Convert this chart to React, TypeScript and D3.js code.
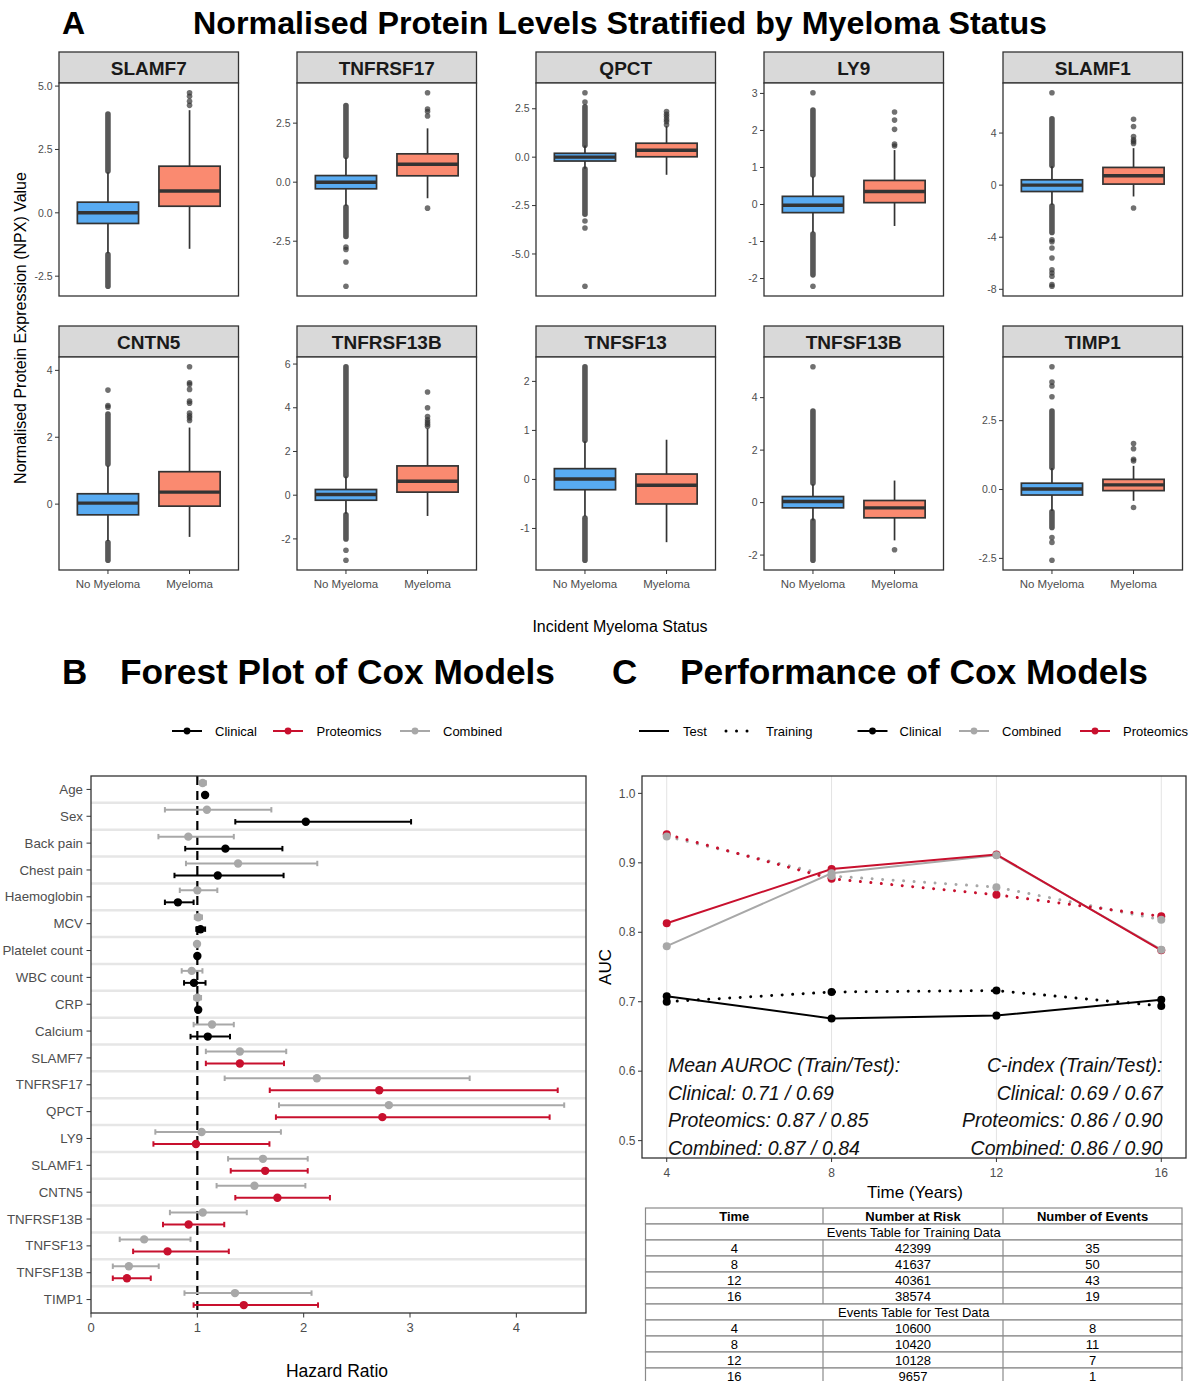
import React from 'react';
import * as d3 from 'd3';

const W = 1192;
const H = 1381;
const FONT = "'Liberation Sans', Arial, Helvetica, sans-serif";
const BLUE = '#58ABF2';
const SALMON = '#FA8A70';
const RED = '#C8102E';
const GREY = '#A8A8A8';
const AXIS_TEXT = '#4D4D4D';
const DARK = '#333333';

// ---------------- Panel A data ----------------
const proteins = ['SLAMF7', 'TNFRSF17', 'QPCT', 'LY9', 'SLAMF1', 'CNTN5', 'TNFRSF13B', 'TNFSF13', 'TNFSF13B', 'TIMP1'];
const groups = ['No Myeloma', 'Myeloma'];
// [lower whisker, Q1, median, Q3, upper whisker]
const boxNoMyeloma: number[][] = [
  [-1.6, -0.42, 0.0, 0.42, 1.6],
  [-1.0, -0.28, 0.0, 0.28, 1.05],
  [-0.6, -0.2, 0.0, 0.2, 0.6],
  [-0.75, -0.22, -0.02, 0.22, 0.75],
  [-1.5, -0.49, 0.0, 0.41, 1.45],
  [-1.1, -0.32, 0.03, 0.31, 1.15],
  [-0.85, -0.23, 0.03, 0.26, 0.85],
  [-0.75, -0.21, 0.01, 0.22, 0.78],
  [-0.68, -0.2, 0.04, 0.23, 0.7],
  [-0.78, -0.2, 0.02, 0.23, 0.78],
];
const boxMyeloma: number[][] = [
  [-1.42, 0.26, 0.86, 1.84, 4.05],
  [-0.68, 0.27, 0.76, 1.2, 2.28],
  [-0.91, 0.02, 0.36, 0.72, 1.6],
  [-0.58, 0.05, 0.35, 0.65, 1.47],
  [-0.87, 0.08, 0.72, 1.36, 2.84],
  [-0.98, -0.06, 0.36, 0.97, 2.29],
  [-0.95, 0.14, 0.64, 1.34, 3.05],
  [-1.28, -0.5, -0.12, 0.11, 0.81],
  [-1.44, -0.58, -0.2, 0.08, 0.84],
  [-0.41, -0.04, 0.17, 0.37, 0.86],
];
// ranges where the outlier dots overlap into a continuous column
const denseOutliersNoMyeloma: number[][][] = [
  [[1.65, 3.9], [-2.9, -1.65]],
  [[1.1, 3.25], [-2.3, -1.05]],
  [[0.62, 2.6], [-2.95, -0.62]],
  [[0.8, 2.55], [-1.9, -0.8]],
  [[1.5, 5.1], [-3.63, -1.6]],
  [[1.2, 2.69], [-1.68, -1.15]],
  [[0.9, 5.88], [-2.0, -0.9]],
  [[0.8, 2.3], [-1.65, -0.79]],
  [[0.75, 3.49], [-2.2, -0.7]],
  [[0.8, 2.85], [-1.38, -0.81]],
];
const outliersNoMyeloma: number[][] = [
  [],
  [-2.75, -2.85, -3.38, -4.41],
  [2.85, 3.33, -3.3, -3.66, -6.67],
  [3.02, -2.21],
  [7.1, -4.2, -4.35, -4.83, -5.6, -6.5, -6.75, -7.0, -7.64, -7.77],
  [2.9, 2.95, 3.41],
  [-2.52, -2.98],
  [],
  [5.18],
  [3.37, 3.76, 3.9, 4.46, -1.74, -1.92, -2.57],
];
const outliersMyeloma: number[][] = [
  [4.24, 4.4, 4.6, 4.74],
  [2.8, 2.99, 3.1, 3.79, -1.1],
  [1.67, 1.84, 1.95, 2.1, 2.22, 2.36],
  [1.58, 1.63, 2.03, 2.28, 2.5],
  [3.2, 3.35, 3.48, 3.73, 4.5, 5.06, -1.76],
  [2.5, 2.58, 2.64, 2.72, 3.02, 3.08, 3.43, 3.58, 3.63, 4.11],
  [3.15, 3.25, 3.35, 3.45, 3.6, 4.0, 4.72],
  [],
  [-1.8],
  [1.04, 1.1, 1.48, 1.67, -0.65],
];
const yTicksA: number[][] = [
  [-2.5, 0, 2.5, 5],
  [-2.5, 0, 2.5],
  [-5, -2.5, 0, 2.5],
  [-2, -1, 0, 1, 2, 3],
  [-8, -4, 0, 4],
  [0, 2, 4],
  [-2, 0, 2, 4, 6],
  [-1, 0, 1, 2],
  [-2, 0, 2, 4],
  [-2.5, 0, 2.5],
];

// ---------------- Panel B data ----------------
const forestVars = ['Age', 'Sex', 'Back pain', 'Chest pain', 'Haemoglobin', 'MCV', 'Platelet count', 'WBC count', 'CRP', 'Calcium',
  'SLAMF7', 'TNFRSF17', 'QPCT', 'LY9', 'SLAMF1', 'CNTN5', 'TNFRSF13B', 'TNFSF13', 'TNFSF13B', 'TIMP1'];
const combinedHR = [1.05, 1.09, 0.915, 1.383, 1.0, 1.008, 0.997, 0.947, 1.0, 1.138, 1.40, 2.124, 2.801, 1.04, 1.617, 1.537, 1.051, 0.50, 0.356, 1.354];
const combinedLo = [1.03, 0.695, 0.634, 0.893, 0.835, 0.976, 0.985, 0.853, 0.97, 0.965, 1.08, 1.257, 1.768, 0.605, 1.289, 1.181, 0.742, 0.27, 0.205, 0.879];
const combinedHi = [1.08, 1.696, 1.343, 2.128, 1.188, 1.044, 1.01, 1.048, 1.035, 1.343, 1.836, 3.561, 4.45, 1.786, 2.038, 2.016, 1.465, 0.936, 0.637, 2.074];
const clinicalHR = [1.073, 2.02, 1.264, 1.192, 0.817, 1.03, 1.0, 0.968, 1.008, 1.098];
const clinicalLo = [1.055, 1.357, 0.886, 0.785, 0.695, 0.99, 0.99, 0.875, 0.995, 0.936];
const clinicalHi = [1.09, 3.01, 1.80, 1.811, 0.965, 1.073, 1.01, 1.077, 1.02, 1.307];
const proteomicsHR = [1.40, 2.711, 2.74, 0.987, 1.638, 1.753, 0.918, 0.72, 0.338, 1.437];
const proteomicsLo = [1.08, 1.681, 1.739, 0.587, 1.314, 1.357, 0.677, 0.396, 0.205, 0.965];
const proteomicsHi = [1.815, 4.389, 4.313, 1.678, 2.038, 2.247, 1.253, 1.296, 0.562, 2.135];
const forestTicks = [0, 1, 2, 3, 4];

// ---------------- Panel C data ----------------
const timesC = [4, 8, 12, 16];
const aucClinicalTest = [0.708, 0.676, 0.680, 0.703];
const aucClinicalTrain = [0.700, 0.714, 0.716, 0.694];
const aucCombinedTest = [0.780, 0.885, 0.911, 0.775];
const aucCombinedTrain = [0.938, 0.881, 0.865, 0.818];
const aucProteomicsTest = [0.813, 0.891, 0.912, 0.774];
const aucProteomicsTrain = [0.941, 0.877, 0.854, 0.823];
const aucTicks = [0.5, 0.6, 0.7, 0.8, 0.9, 1.0];
const annoLeft = ['Mean AUROC (Train/Test):', 'Clinical: 0.71 / 0.69', 'Proteomics: 0.87 / 0.85', 'Combined: 0.87 / 0.84'];
const annoRight = ['C-index (Train/Test):', 'Clinical: 0.69 / 0.67', 'Proteomics: 0.86 / 0.90', 'Combined: 0.86 / 0.90'];

// ---------------- Table data ----------------
const tableHeader = ['Time', 'Number at Risk', 'Number of Events'];
const tableTimes = [4, 8, 12, 16];
const trainAtRisk = [42399, 41637, 40361, 38574];
const trainEvents = [35, 50, 43, 19];
const testAtRisk = [10600, 10420, 10128, 9657];
const testEvents = [8, 11, 7, 1];

// ---------------- Panel A ----------------
const colX = [59, 297, 536, 764, 1003];
const rowStripY = [52, 326];
const FACET_W = 179.5;
const STRIP_H = 31;
const PANEL_H = 213;

function tickFormatter(ticks: number[]) {
  const dec = ticks.some((t) => !Number.isInteger(t));
  return (t: number) => (dec ? t.toFixed(1) : String(t));
}

function Facet({ i }: { i: number }) {
  const col = i % 5;
  const row = Math.floor(i / 5);
  const x0 = colX[col];
  const x1 = x0 + FACET_W;
  const sTop = rowStripY[row];
  const top = sTop + STRIP_H;
  const bottom = top + PANEL_H;
  const vals = [...boxNoMyeloma[i], ...boxMyeloma[i], ...denseOutliersNoMyeloma[i].flat(), ...outliersNoMyeloma[i], ...outliersMyeloma[i]];
  const [mn, mx] = d3.extent(vals) as [number, number];
  const pad = (mx - mn) * 0.05;
  const y = d3.scaleLinear().domain([mn - pad, mx + pad]).range([bottom, top]);
  const x = d3.scalePoint<string>().domain(groups).range([x0, x1]).padding(0.6);
  const bw = x.step() * 0.75;
  const fmt = tickFormatter(yTicksA[i]);
  const stats = [boxNoMyeloma[i], boxMyeloma[i]];
  const fills = [BLUE, SALMON];
  const outs = [outliersNoMyeloma[i], outliersMyeloma[i]];
  const dens = [denseOutliersNoMyeloma[i], [] as number[][]];
  return (
    <g>
      <rect x={x0} y={sTop} width={FACET_W} height={STRIP_H} fill="#D9D9D9" stroke={DARK} strokeWidth={1.3} />
      <text x={(x0 + x1) / 2} y={sTop + STRIP_H / 2 + 7} textAnchor="middle" fontWeight="bold" fontSize={19} fill="#1a1a1a">
        {proteins[i]}
      </text>
      <rect x={x0} y={top} width={FACET_W} height={PANEL_H} fill="#fff" />
      {groups.map((g, gi) => {
        const cx = x(g) as number;
        const s = stats[gi];
        return (
          <g key={g}>
            {dens[gi].map((r, k) => (
              <line key={'d' + k} x1={cx} x2={cx} y1={y(r[0])} y2={y(r[1])} stroke="#333" strokeOpacity={0.82} strokeWidth={5.6} strokeLinecap="round" />
            ))}
            {outs[gi].map((v, k) => (
              <circle key={'o' + k} cx={cx} cy={y(v)} r={2.8} fill="#333" fillOpacity={0.7} />
            ))}
            <line x1={cx} x2={cx} y1={y(s[0])} y2={y(s[1])} stroke={DARK} strokeWidth={1.7} />
            <line x1={cx} x2={cx} y1={y(s[3])} y2={y(s[4])} stroke={DARK} strokeWidth={1.7} />
            <rect x={cx - bw / 2} y={y(s[3])} width={bw} height={y(s[1]) - y(s[3])} fill={fills[gi]} stroke={DARK} strokeWidth={1.7} />
            <line x1={cx - bw / 2} x2={cx + bw / 2} y1={y(s[2])} y2={y(s[2])} stroke={DARK} strokeWidth={3.4} />
          </g>
        );
      })}
      <rect x={x0} y={top} width={FACET_W} height={PANEL_H} fill="none" stroke={DARK} strokeWidth={1.3} />
      {yTicksA[i].map((t) => (
        <g key={t}>
          <line x1={x0 - 4} x2={x0} y1={y(t)} y2={y(t)} stroke={DARK} strokeWidth={1} />
          <text x={x0 - 6.5} y={y(t) + 3.7} textAnchor="end" fontSize={10.5} fill={AXIS_TEXT}>
            {fmt(t)}
          </text>
        </g>
      ))}
      {row === 1 &&
        groups.map((g) => (
          <g key={'xt' + g}>
            <line x1={x(g) as number} x2={x(g) as number} y1={bottom} y2={bottom + 4} stroke={DARK} strokeWidth={1} />
            <text x={x(g) as number} y={bottom + 18} textAnchor="middle" fontSize={11.5} fill={AXIS_TEXT}>
              {g}
            </text>
          </g>
        ))}
    </g>
  );
}

function PanelA() {
  return (
    <g>
      <text x={62} y={34} fontSize={32} fontWeight="bold" fill="#000">A</text>
      <text x={193} y={34} fontSize={32} fontWeight="bold" fill="#000" textLength={854} lengthAdjust="spacingAndGlyphs">
        Normalised Protein Levels Stratified by Myeloma Status
      </text>
      {proteins.map((p, i) => (
        <Facet key={p} i={i} />
      ))}
      <text transform="translate(26,328) rotate(-90)" textAnchor="middle" fontSize={16} fill="#000">
        Normalised Protein Expression (NPX) Value
      </text>
      <text x={620} y={632} textAnchor="middle" fontSize={16} fill="#000">
        Incident Myeloma Status
      </text>
    </g>
  );
}

// ---------------- Panel B ----------------
function PanelB() {
  const left = 91;
  const right = 586;
  const top = 776;
  const bottom = 1313;
  const fx = d3.scaleLinear().domain([0, 4.655]).range([left, right]);
  const fy = d3.scaleBand<string>().domain(forestVars).range([top, bottom]);
  const bwid = fy.bandwidth();
  const rows = forestVars.map((v, i) => {
    const c = (fy(v) as number) + bwid / 2;
    const other =
      i < 10
        ? { hr: clinicalHR[i], lo: clinicalLo[i], hi: clinicalHi[i], color: '#000' }
        : { hr: proteomicsHR[i - 10], lo: proteomicsLo[i - 10], hi: proteomicsHi[i - 10], color: RED };
    return {
      v,
      c,
      marks: [
        { hr: combinedHR[i], lo: combinedLo[i], hi: combinedHi[i], color: GREY, y: c - 6.5 },
        { ...other, y: c + 5.5 },
      ],
    };
  });
  const legend = [
    { label: 'Clinical', color: '#000', x: 172, tx: 215 },
    { label: 'Proteomics', color: RED, x: 273, tx: 316.5 },
    { label: 'Combined', color: GREY, x: 400, tx: 443 },
  ];
  return (
    <g>
      <text x={62} y={684} fontSize={35} fontWeight="bold" fill="#000">B</text>
      <text x={120} y={684} fontSize={35} fontWeight="bold" fill="#000" textLength={435} lengthAdjust="spacingAndGlyphs">
        Forest Plot of Cox Models
      </text>
      {legend.map((l) => (
        <g key={l.label}>
          <line x1={l.x} x2={l.x + 30} y1={731} y2={731} stroke={l.color} strokeWidth={2} />
          <circle cx={l.x + 15} cy={731} r={3.4} fill={l.color} />
          <text x={l.tx} y={735.5} fontSize={13} fill="#000">{l.label}</text>
        </g>
      ))}
      <rect x={left} y={top} width={right - left} height={bottom - top} fill="#fff" />
      {forestVars.slice(1).map((v) => (
        <line key={'sep' + v} x1={left} x2={right} y1={fy(v) as number} y2={fy(v) as number} stroke="#E6E6E6" strokeWidth={2.5} />
      ))}
      <line x1={fx(1)} x2={fx(1)} y1={top} y2={bottom} stroke="#000" strokeWidth={2.2} strokeDasharray="9,6" />
      {rows.map((r) =>
        r.marks.map((m, k) => (
          <g key={r.v + k}>
            <line x1={fx(m.lo)} x2={fx(m.hi)} y1={m.y} y2={m.y} stroke={m.color} strokeWidth={2} />
            <line x1={fx(m.lo)} x2={fx(m.lo)} y1={m.y - 2.7} y2={m.y + 2.7} stroke={m.color} strokeWidth={2} />
            <line x1={fx(m.hi)} x2={fx(m.hi)} y1={m.y - 2.7} y2={m.y + 2.7} stroke={m.color} strokeWidth={2} />
            <circle cx={fx(m.hr)} cy={m.y} r={4.2} fill={m.color} />
          </g>
        ))
      )}
      <rect x={left} y={top} width={right - left} height={bottom - top} fill="none" stroke={DARK} strokeWidth={1.3} />
      {rows.map((r) => (
        <g key={'yl' + r.v}>
          <line x1={left - 4.5} x2={left} y1={r.c} y2={r.c} stroke={DARK} strokeWidth={1} />
          <text x={left - 8} y={r.c + 4.6} textAnchor="end" fontSize={13.3} fill={AXIS_TEXT}>{r.v}</text>
        </g>
      ))}
      {forestTicks.map((t) => (
        <g key={'xt' + t}>
          <line x1={fx(t)} x2={fx(t)} y1={bottom} y2={bottom + 4.5} stroke={DARK} strokeWidth={1} />
          <text x={fx(t)} y={bottom + 19} textAnchor="middle" fontSize={13} fill={AXIS_TEXT}>{t}</text>
        </g>
      ))}
      <text x={337} y={1377} textAnchor="middle" fontSize={17.5} fill="#000">Hazard Ratio</text>
    </g>
  );
}

// ---------------- Panel C ----------------
function PanelC() {
  const left = 642;
  const right = 1186;
  const top = 776;
  const bottom = 1158;
  const cx = d3.scaleLinear().domain([3.4, 16.6]).range([left, right]);
  const cy = d3.scaleLinear().domain([0.475, 1.025]).range([bottom, top]);
  const line = d3
    .line<number>()
    .x((_, i) => cx(timesC[i]))
    .y((d) => cy(d));
  const series = [
    { name: 'Clinical', color: '#000', test: aucClinicalTest, train: aucClinicalTrain },
    { name: 'Combined', color: GREY, test: aucCombinedTest, train: aucCombinedTrain },
    { name: 'Proteomics', color: RED, test: aucProteomicsTest, train: aucProteomicsTrain },
  ];
  const pointOrder = [series[0], series[2], series[1]];
  const DOT = '0.01,10.5';
  const legendModels = [
    { label: 'Clinical', color: '#000', x: 857.5, tx: 899.5 },
    { label: 'Combined', color: GREY, x: 959, tx: 1002 },
    { label: 'Proteomics', color: RED, x: 1080, tx: 1123 },
  ];
  const annoY = [1071.5, 1099.5, 1126.5, 1154.5];
  return (
    <g>
      <text x={612} y={684} fontSize={35} fontWeight="bold" fill="#000">C</text>
      <text x={680} y={684} fontSize={35} fontWeight="bold" fill="#000" textLength={468} lengthAdjust="spacingAndGlyphs">
        Performance of Cox Models
      </text>
      {/* legend */}
      <line x1={639} x2={669} y1={731} y2={731} stroke="#000" strokeWidth={2} />
      <text x={683} y={735.5} fontSize={13} fill="#000">Test</text>
      <line x1={726} x2={751} y1={731} y2={731} stroke="#000" strokeWidth={3} strokeDasharray={DOT} strokeLinecap="round" />
      <text x={766} y={735.5} fontSize={13} fill="#000">Training</text>
      {legendModels.map((l) => (
        <g key={l.label}>
          <line x1={l.x} x2={l.x + 30} y1={731} y2={731} stroke={l.color} strokeWidth={2} />
          <circle cx={l.x + 15} cy={731} r={3.4} fill={l.color} />
          <text x={l.tx} y={735.5} fontSize={13} fill="#000">{l.label}</text>
        </g>
      ))}
      <rect x={left} y={top} width={right - left} height={bottom - top} fill="#fff" />
      {timesC.map((t) => (
        <line key={'g' + t} x1={cx(t)} x2={cx(t)} y1={top} y2={bottom} stroke="#E3E3E3" strokeWidth={1} />
      ))}
      {series.map((s) => (
        <g key={s.name}>
          <path d={line(s.train) as string} fill="none" stroke={s.color} strokeWidth={3} strokeDasharray={DOT} strokeLinecap="round" />
          <path d={line(s.test) as string} fill="none" stroke={s.color} strokeWidth={2} />
        </g>
      ))}
      {pointOrder.map((s) => (
        <g key={'p' + s.name}>
          {s.train.map((v, i) => (
            <circle key={'tr' + i} cx={cx(timesC[i])} cy={cy(v)} r={4} fill={s.color} />
          ))}
          {s.test.map((v, i) => (
            <circle key={'te' + i} cx={cx(timesC[i])} cy={cy(v)} r={4} fill={s.color} />
          ))}
        </g>
      ))}
      {annoLeft.map((t, k) => (
        <text key={'al' + k} x={668} y={annoY[k]} fontSize={19.5} fontStyle="italic" fill="#111">{t}</text>
      ))}
      {annoRight.map((t, k) => (
        <text key={'ar' + k} x={1162.5} y={annoY[k]} textAnchor="end" fontSize={19.5} fontStyle="italic" fill="#111">{t}</text>
      ))}
      <rect x={left} y={top} width={right - left} height={bottom - top} fill="none" stroke={DARK} strokeWidth={1.3} />
      {aucTicks.map((t) => (
        <g key={'yt' + t}>
          <line x1={left - 4} x2={left} y1={cy(t)} y2={cy(t)} stroke={DARK} strokeWidth={1} />
          <text x={left - 6.5} y={cy(t) + 4.2} textAnchor="end" fontSize={12} fill={AXIS_TEXT}>{t.toFixed(1)}</text>
        </g>
      ))}
      {timesC.map((t) => (
        <g key={'xt' + t}>
          <line x1={cx(t)} x2={cx(t)} y1={bottom} y2={bottom + 4} stroke={DARK} strokeWidth={1} />
          <text x={cx(t)} y={bottom + 19} textAnchor="middle" fontSize={12} fill={AXIS_TEXT}>{t}</text>
        </g>
      ))}
      <text transform="translate(611,967) rotate(-90)" textAnchor="middle" fontSize={17} fill="#000">AUC</text>
      <text x={915} y={1198} textAnchor="middle" fontSize={17} fill="#000">Time (Years)</text>
    </g>
  );
}

// ---------------- Table ----------------
function EventsTable() {
  const colEdges = [645.5, 823, 1003, 1182];
  const colCenters = [0, 1, 2].map((k) => (colEdges[k] + colEdges[k + 1]) / 2);
  const top = 1208;
  const rowH = 16;
  type Row = { kind: 'header' | 'section' | 'data'; cells: string[] };
  const rows: Row[] = [
    { kind: 'header', cells: tableHeader },
    { kind: 'section', cells: ['Events Table for Training Data'] },
    ...tableTimes.map((t, i) => ({ kind: 'data' as const, cells: [String(t), String(trainAtRisk[i]), String(trainEvents[i])] })),
    { kind: 'section', cells: ['Events Table for Test Data'] },
    ...tableTimes.map((t, i) => ({ kind: 'data' as const, cells: [String(t), String(testAtRisk[i]), String(testEvents[i])] })),
  ];
  const LC = '#8A8A8A';
  return (
    <g>
      {rows.map((r, k) => {
        const y0 = top + k * rowH;
        return (
          <g key={'r' + k}>
            <rect x={colEdges[0]} y={y0} width={colEdges[3] - colEdges[0]} height={rowH} fill="#fff" stroke={LC} strokeWidth={1.2} />
            {r.kind !== 'section' && (
              <>
                <line x1={colEdges[1]} x2={colEdges[1]} y1={y0} y2={y0 + rowH} stroke={LC} strokeWidth={1.2} />
                <line x1={colEdges[2]} x2={colEdges[2]} y1={y0} y2={y0 + rowH} stroke={LC} strokeWidth={1.2} />
              </>
            )}
            {r.kind === 'section' ? (
              <text x={(colEdges[0] + colEdges[3]) / 2} y={y0 + 12.5} textAnchor="middle" fontSize={13} fill="#000">{r.cells[0]}</text>
            ) : (
              r.cells.map((c, j) => (
                <text key={j} x={colCenters[j]} y={y0 + 12.5} textAnchor="middle" fontSize={13} fontWeight={r.kind === 'header' ? 'bold' : 'normal'} fill="#000">
                  {c}
                </text>
              ))
            )}
          </g>
        );
      })}
    </g>
  );
}

export default function App() {
  return (
    <svg
      width={W}
      height={H}
      viewBox={`0 0 ${W} ${H}`}
      style={{ position: 'absolute', left: 0, top: 0, background: '#fff' }}
      fontFamily={FONT}
    >
      <rect width={W} height={H} fill="#fff" />
      <PanelA />
      <PanelB />
      <PanelC />
      <EventsTable />
    </svg>
  );
}
